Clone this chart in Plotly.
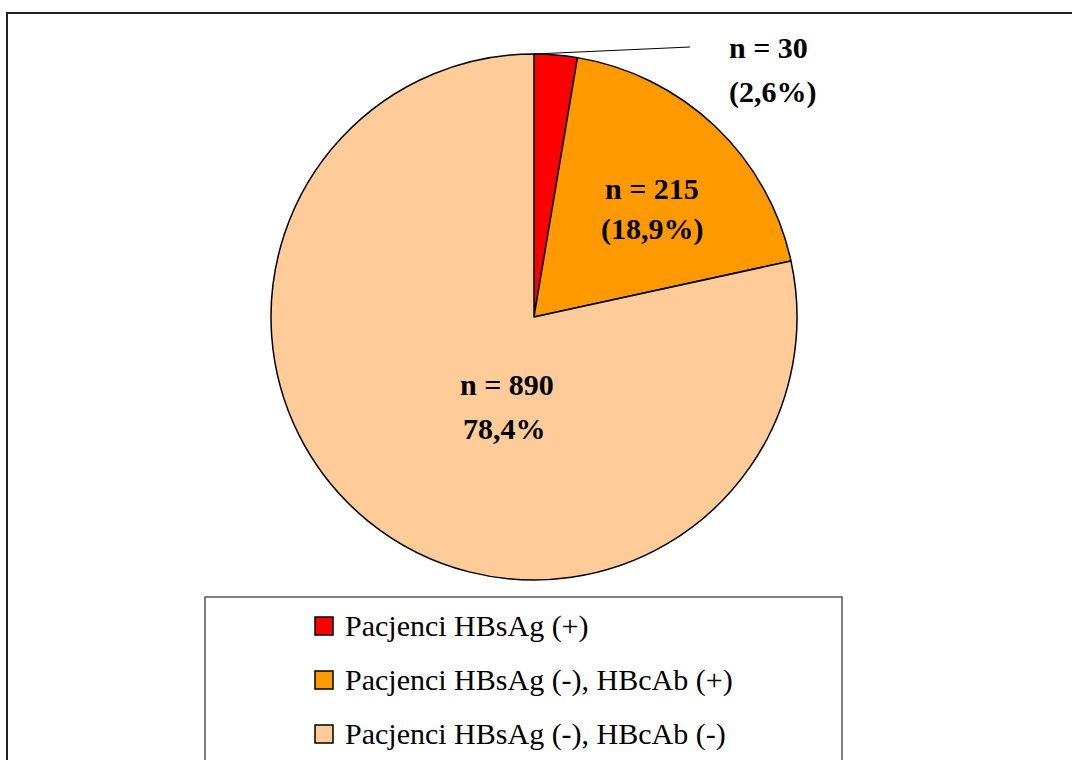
import plotly.graph_objects as go

# Chart data
categories = ["Pacjenci HBsAg (+)", "Pacjenci HBsAg (-), HBcAb (+)", "Pacjenci HBsAg (-), HBcAb (-)"]
counts = [30, 215, 890]
pct_labels = ["(2,6%)", "(18,9%)", "78,4%"]
colors = ["#FF0000", "#FF9900", "#FFCC99"]

W, H = 1072, 760


def px(x):
    return x / W


def py(y):
    return 1 - y / H


# Pie geometry (pixels)
cx, cy, r = 534, 317, 263

fig = go.Figure(go.Pie(
    labels=categories,
    values=counts,
    sort=False,
    direction="clockwise",
    rotation=0,
    marker=dict(colors=colors, line=dict(color="black", width=1.5)),
    textinfo="none",
    hoverinfo="label+value+percent",
    showlegend=False,
    domain=dict(x=[px(cx - r), px(cx + r)], y=[py(cy + r), py(cy - r)]),
))

label_font = dict(family="Liberation Serif, Times New Roman, serif", size=30, color="black")
legend_font = dict(family="Liberation Serif, Times New Roman, serif", size=30, color="black")

# Slice labels: count line and percentage line
label_pos = [((768, 48), (772, 92)), ((652, 188), (652, 229)), ((507, 384), (504, 428))]
annotations = []
for n, pct, ((x1, y1), (x2, y2)) in zip(counts, pct_labels, label_pos):
    annotations.append(dict(x=px(x1), y=py(y1), xref="paper", yref="paper",
                            text=f"<b>n = {n}</b>", showarrow=False, font=label_font,
                            xanchor="center", yanchor="middle"))
    annotations.append(dict(x=px(x2), y=py(y2), xref="paper", yref="paper",
                            text=f"<b>{pct}</b>", showarrow=False, font=label_font,
                            xanchor="center", yanchor="middle"))

shapes = []
# Outer chart frame
shapes.append(dict(type="rect", xref="paper", yref="paper",
                   x0=px(7), x1=px(1090), y0=py(790), y1=py(13),
                   line=dict(color="#222222", width=2), fillcolor="rgba(0,0,0,0)", layer="below"))
# Leader line for the smallest slice
shapes.append(dict(type="line", xref="paper", yref="paper",
                   x0=px(cx), y0=py(cy - r), x1=px(690), y1=py(47),
                   line=dict(color="black", width=1)))
# Legend box
shapes.append(dict(type="rect", xref="paper", yref="paper",
                   x0=px(205), x1=px(842), y0=py(800), y1=py(597),
                   line=dict(color="#555555", width=1.5), fillcolor="white"))

# Legend entries
row_y = [626, 680, 734]
for name, col, yy in zip(categories, colors, row_y):
    shapes.append(dict(type="rect", xref="paper", yref="paper",
                       x0=px(315), x1=px(333), y0=py(yy + 9), y1=py(yy - 9),
                       line=dict(color="black", width=1.5), fillcolor=col))
    annotations.append(dict(x=px(343), y=py(yy), xref="paper", yref="paper",
                            text=name, showarrow=False, font=legend_font,
                            xanchor="left", yanchor="middle"))

fig.update_layout(
    width=W, height=H,
    margin=dict(l=0, r=0, t=0, b=0),
    paper_bgcolor="white",
    plot_bgcolor="white",
    shapes=shapes,
    annotations=annotations,
)

fig.write_html("out.html")
